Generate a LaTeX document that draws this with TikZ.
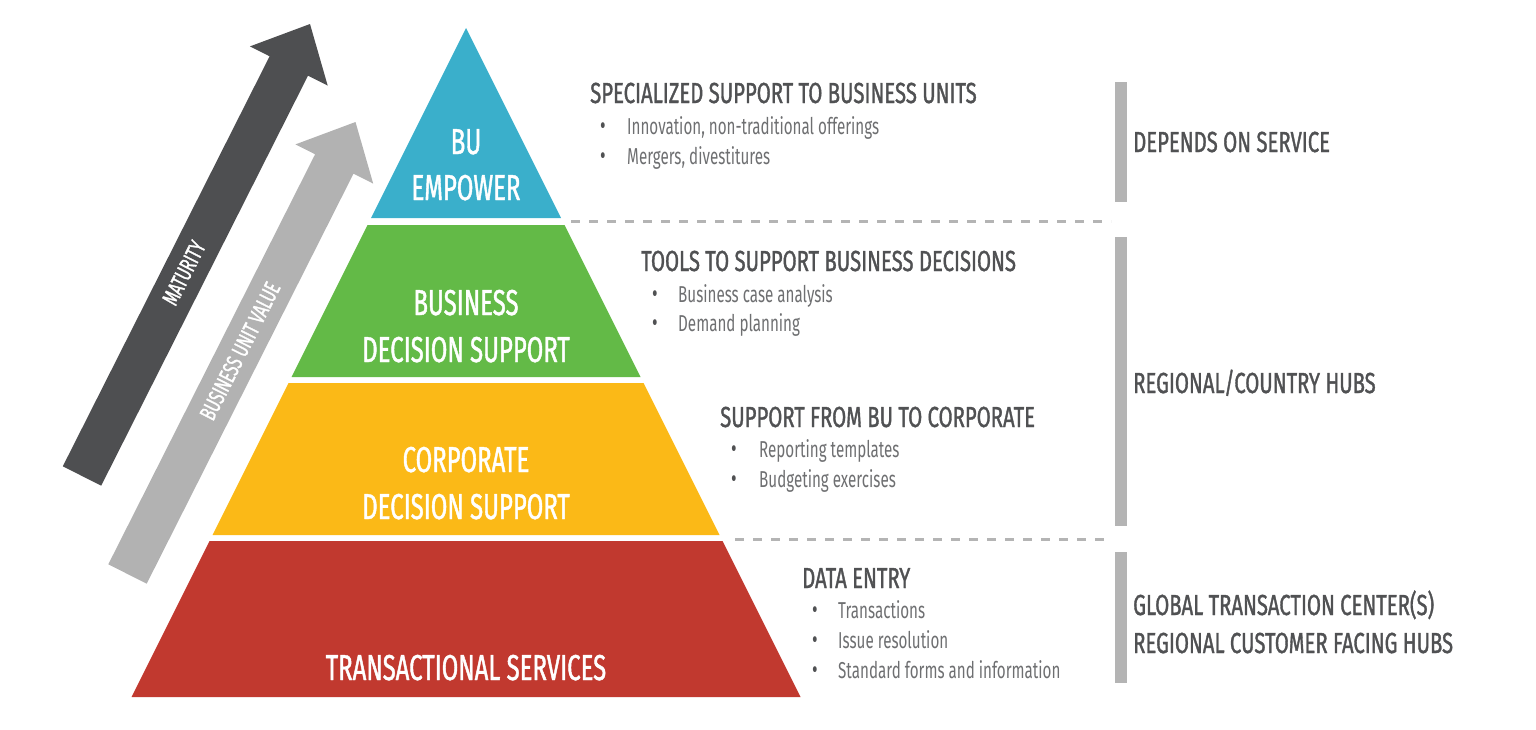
\documentclass[tikz,border=0pt]{standalone}
\usepackage{fontspec}
\setmainfont{Fira Sans}[FakeStretch=0.66]
\newfontfamily\medfont{Fira Sans}[FakeStretch=0.665, FakeBold=1.2]
\newfontfamily\headfont{Fira Sans}[FakeStretch=0.70, FakeBold=1.2]
\newfontfamily\lightfont{Fira Sans}[FakeStretch=0.66]
\usetikzlibrary{calc}
\definecolor{darkarr}{HTML}{4E4F51}
\definecolor{lightarr}{HTML}{B2B2B2}
\definecolor{tblue}{HTML}{3AAFCB}
\definecolor{tgreen}{HTML}{63BA47}
\definecolor{tyellow}{HTML}{FBB917}
\definecolor{tred}{HTML}{C1392F}
\definecolor{headtxt}{HTML}{505153}
\definecolor{bultxt}{HTML}{6E6F71}
\definecolor{barcol}{HTML}{B4B4B4}
\tikzset{
  tiertext/.style={inner sep=0pt, anchor=base, text=white, font=\medfont\fontsize{36}{40}\selectfont},
  headtext/.style={inner sep=0pt, anchor=base west, text=headtxt, font=\headfont\fontsize{29}{32}\selectfont},
  bultext/.style={inner sep=0pt, anchor=base west, text=bultxt, font=\lightfont\fontsize{23}{26}\selectfont},
  bulmark/.style={inner sep=0pt, anchor=base, text=headtxt, font=\fontsize{26}{28}\selectfont},
  arrtext/.style={inner sep=0pt, anchor=center, text=white, rotate=63.2, font=\medfont\fontsize{23}{26}\selectfont},
  sepline/.style={draw=barcol, line width=3pt, dash pattern=on 9pt off 9pt},
  sidebar/.style={fill=barcol}
}
\begin{document}
\begin{tikzpicture}[x=1pt,y=-1pt]
\useasboundingbox (0,0) rectangle (1536,729);
% arrows
\fill[darkarr] (62.8,466.3) -- (269.6,56.3) -- (249.9,46.4) -- (310,24) -- (327.7,85.6) -- (308,75.7) -- (101.2,485.7) -- cycle;
\fill[lightarr] (108.3,564.3) -- (315.1,154.3) -- (295.4,144.4) -- (355.5,122) -- (373.2,183.6) -- (353.5,173.7) -- (146.7,583.7) -- cycle;
\node[arrtext] (mat) at (184,273) {MATURITY};
\node[arrtext] (buv) at (240,351) {BUSINESS UNIT VALUE};
% pyramid
\fill[tblue] (466,28) -- (561,218) -- (371,218) -- cycle;
\fill[tgreen] (367.5,225) -- (564.5,225) -- (640.5,377) -- (291.5,377) -- cycle;
\fill[tyellow] (288.5,383) -- (643.5,383) -- (719.5,535) -- (212.5,535) -- cycle;
\fill[tred] (209.5,541) -- (722.5,541) -- (800.5,697) -- (131.5,697) -- cycle;
\node[tiertext] (t1a) at (466,154) {BU};
\node[tiertext] (t1b) at (466,200) {EMPOWER};
\node[tiertext] (t2a) at (466,315) {BUSINESS};
\node[tiertext] (t2b) at (466,362) {DECISION SUPPORT};
\node[tiertext] (t3a) at (466,472) {CORPORATE};
\node[tiertext] (t3b) at (466,519) {DECISION SUPPORT};
\node[tiertext] (t4) at (466,680) {TRANSACTIONAL SERVICES};
% separators
\draw[sepline] (571,221) -- (1111,221);
\draw[sepline] (735,539) -- (1111,539);
\fill[sidebar] (1115,82) rectangle (1127,202);
\fill[sidebar] (1115,237) rectangle (1127,526);
\fill[sidebar] (1115,552) rectangle (1127,683);
% descriptions
\node[headtext] (h1) at (590,103) {SPECIALIZED SUPPORT TO BUSINESS UNITS};
\node[bulmark] (b1m) at (603,134) {•};
\node[bultext] (b1) at (627,134) {Innovation, non-traditional offerings};
\node[bulmark] (b2m) at (603,164) {•};
\node[bultext] (b2) at (627,164) {Mergers, divestitures};
\node[headtext] (h2) at (641,271) {TOOLS TO SUPPORT BUSINESS DECISIONS};
\node[bulmark] (b3m) at (655,302) {•};
\node[bultext] (b3) at (678,302) {Business case analysis};
\node[bulmark] (b4m) at (655,331) {•};
\node[bultext] (b4) at (678,331) {Demand planning};
\node[headtext] (h3) at (720,427) {SUPPORT FROM BU TO CORPORATE};
\node[bulmark] (b5m) at (734,457) {•};
\node[bultext] (b5) at (759,457) {Reporting templates};
\node[bulmark] (b6m) at (734,487) {•};
\node[bultext] (b6) at (759,487) {Budgeting exercises};
\node[headtext] (h4) at (802,588) {DATA ENTRY};
\node[bulmark] (b7m) at (815,618) {•};
\node[bultext] (b7) at (838,618) {Transactions};
\node[bulmark] (b8m) at (815,648) {•};
\node[bultext] (b8) at (838,648) {Issue resolution};
\node[bulmark] (b9m) at (815,678) {•};
\node[bultext] (b9) at (838,678) {Standard forms and information};
% right labels
\node[headtext] (r1) at (1133,152) {DEPENDS ON SERVICE};
\node[headtext] (r2) at (1133,393) {REGIONAL/COUNTRY HUBS};
\node[headtext] (r3) at (1133,615) {GLOBAL TRANSACTION CENTER(S)};
\node[headtext] (r4) at (1133,653) {REGIONAL CUSTOMER FACING HUBS};
\end{tikzpicture}
\end{document}
